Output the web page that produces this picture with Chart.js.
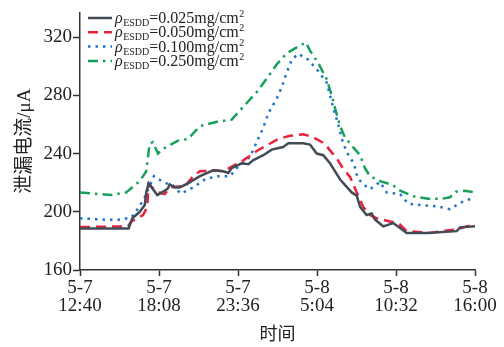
<!DOCTYPE html>
<html>
<head>
<meta charset="utf-8">
<script src="https://cdn.jsdelivr.net/npm/chart.js"></script>
<style>
  html, body { margin: 0; padding: 0; background: #fff; }
  #wrap { width: 504px; height: 347px; }
</style>
</head>
<body>
<div id="wrap"><canvas id="leak" width="504" height="347"></canvas></div>
<script>
// 时间: minutes after 5-7 12:40
const tickMinutes = [0, 328, 656, 984, 1312, 1640];
const tickLabels = [['5-7', '12:40'], ['5-7', '18:08'], ['5-7', '23:36'], ['5-8', '5:04'], ['5-8', '10:32'], ['5-8', '16:00']];
const yTicks = [160, 200, 240, 280, 320];
const concLabels = ['0.025', '0.050', '0.100', '0.250'];

// ρ = 0.025 mg/cm2
const t025 = [0,202,217,248,269,275,285,303,321,345,365,372,393,414,448,498,553,595,616,630,671,699,720,761,796,830,843,865,927,955,983,1010,1038,1059,1080,1128,1149,1163,1190,1211,1225,1259,1301,1329,1356,1440,1564,1578,1640];
const i025 = [188.5,188.5,195.5,200,204.7,213.3,219.5,215.5,211.5,213.8,216,218.9,216.7,216.7,219.5,224.5,228.5,227.8,226.7,230,233.3,232.7,235.5,238.9,242.7,244,244.5,247.1,247.1,246.2,240,238.9,233.3,227.8,222.2,213.3,211.1,203.3,197.8,198.9,194.5,190,192.2,188.9,185.5,185.5,186.7,189.3,190];

// ρ = 0.050 mg/cm2
const t050 = [0,199,213,262,279,285,324,352,372,407,435,470,498,561,595,644,671,734,768,823,872,927,969,1017,1038,1066,1087,1121,1149,1176,1204,1232,1287,1322,1356,1453,1523,1564,1606,1640];
const i050 = [189.5,190,193.3,197.8,203.3,218.9,213.3,212.2,216.7,217.3,217.3,224.5,227.8,228.5,227.8,232.2,234.5,241.8,244.9,250,252.2,253.3,251.1,246.7,242.2,236.7,231.1,224,213.3,203.3,197.8,195.5,193.3,192.2,186.7,185.5,187.1,187.8,190,191.1];

// ρ = 0.100 mg/cm2
const t100 = [0,47,109,158,213,241,269,307,349,386,418,470,519,568,623,651,706,761,782,817,837,858,879,906,948,989,1024,1052,1072,1087,1107,1138,1152,1176,1204,1246,1273,1329,1363,1419,1481,1536,1585,1640];
const i100 = [195.5,195.1,194.5,194.5,196,202.2,210,224.5,220,218.2,212.5,216.7,222.2,224.5,224.5,230,237.8,257.8,267.8,277.8,285.5,295.5,304.5,308.5,304.5,296.7,288.9,271.1,260,250,241.1,232.9,223.3,218.9,215.5,220.5,213.3,212.2,205.5,204.5,203.8,201.8,206.7,210];

// ρ = 0.250 mg/cm2
const t250 = [0,75,130,192,248,275,289,303,324,345,407,448,498,568,630,678,734,789,817,858,900,938,955,989,1024,1045,1059,1080,1100,1128,1163,1183,1204,1246,1301,1329,1384,1446,1502,1536,1561,1598,1640];
const i250 = [213.3,212.2,211.5,213.3,221.1,227.8,246.7,247.8,240,243.3,248.9,250,258.9,261.8,263.3,272.2,282.2,294.7,301.3,308.9,313,316.3,310.7,302.2,291.1,280,271.1,258.9,251.1,245.5,238.9,230,224.5,221.1,218.2,214.5,210.7,208.9,208.9,210,213.8,214.5,213.3];

const pts = (t, v) => t.map((x, k) => ({x: x, y: v[k]}));

const serif = '"Liberation Serif", "Times New Roman", serif';
const axisColor = '#333';

// legend with subscript / superscript, drawn by hand
const seriesLegend = {
    id: 'seriesLegend',
    afterDraw(chart) {
        const ctx = chart.ctx;
        const left = chart.chartArea.left + 8;
        chart.data.datasets.forEach((ds, i) => {
            const y = 18 + i * 14.3;
            ctx.save();
            ctx.strokeStyle = ds.borderColor;
            ctx.lineWidth = ds.borderWidth;
            ctx.setLineDash(ds.borderDash || []);
            ctx.beginPath();
            ctx.moveTo(left, y);
            ctx.lineTo(left + 24, y);
            ctx.stroke();
            ctx.setLineDash([]);

            ctx.fillStyle = '#222';
            ctx.textBaseline = 'alphabetic';
            let x = left + 27;
            const base = y + 5;
            ctx.font = 'italic 16px ' + serif;
            ctx.fillText('ρ', x, base);
            x += ctx.measureText('ρ').width + 0.5;
            ctx.font = '10px ' + serif;
            ctx.fillText('ESDD', x, base + 3);
            x += ctx.measureText('ESDD').width;
            ctx.font = '16px ' + serif;
            const main = '=' + concLabels[i] + 'mg/cm';
            ctx.fillText(main, x, base);
            x += ctx.measureText(main).width + 0.5;
            ctx.font = '10px ' + serif;
            ctx.fillText('2', x, base - 6);
            ctx.restore();
        });
    }
};

const lineStyle = {
    fill: false,
    tension: 0,
    pointRadius: 0,
    borderWidth: 2.5
};

new Chart(document.getElementById('leak').getContext('2d'), {
    type: 'line',
    data: {
        datasets: [
            Object.assign({data: pts(t025, i025), borderColor: '#414c57', borderDash: []}, lineStyle),
            Object.assign({data: pts(t050, i050), borderColor: '#e8203c', borderDash: [10, 6]}, lineStyle),
            Object.assign({data: pts(t100, i100), borderColor: '#1b74c8', borderDash: [2.5, 5]}, lineStyle),
            Object.assign({data: pts(t250, i250), borderColor: '#17a05a', borderDash: [10, 5, 2.5, 5]}, lineStyle)
        ]
    },
    options: {
        responsive: false,
        animation: false,
        layout: { padding: { top: 5, right: 29, left: 0, bottom: 0 } },
        plugins: {
            legend: { display: false },
            tooltip: { enabled: false }
        },
        scales: {
            x: {
                type: 'linear',
                min: 0,
                max: 1640,
                afterBuildTicks: (s) => { s.ticks = tickMinutes.map(v => ({value: v})); },
                afterFit: (s) => { s.height = 77; },
                ticks: {
                    autoSkip: false,
                    maxRotation: 0,
                    padding: 3,
                    color: '#222',
                    font: { family: serif, size: 19, lineHeight: 0.95 },
                    callback: (v, i) => tickLabels[i]
                },
                grid: { drawOnChartArea: false, drawTicks: true, tickLength: 6, tickColor: axisColor, tickWidth: 1.5 },
                border: { color: axisColor, width: 1.5 },
                title: {
                    display: true,
                    text: '时间',
                    color: '#222',
                    padding: { top: 0, bottom: 3 },
                    font: { family: '"Noto Sans CJK SC", sans-serif', size: 18, weight: 'normal', lineHeight: 1.2 }
                }
            },
            y: {
                min: 160,
                max: 337,
                afterBuildTicks: (s) => { s.ticks = yTicks.map(v => ({value: v})); },
                afterFit: (s) => { s.width = 80; },
                ticks: {
                    padding: 1,
                    color: '#222',
                    font: { family: serif, size: 19 }
                },
                grid: { drawOnChartArea: false, drawTicks: true, tickLength: 7, tickColor: axisColor, tickWidth: 1.5 },
                border: { color: axisColor, width: 1.5 },
                title: {
                    display: true,
                    text: '泄漏电流/μA',
                    color: '#222',
                    padding: { top: 14, bottom: 0 },
                    font: { family: serif + ', "Noto Sans CJK SC"', size: 19, weight: 'normal', lineHeight: 1.2 }
                }
            }
        }
    },
    plugins: [seriesLegend]
});
</script>
</body>
</html>
